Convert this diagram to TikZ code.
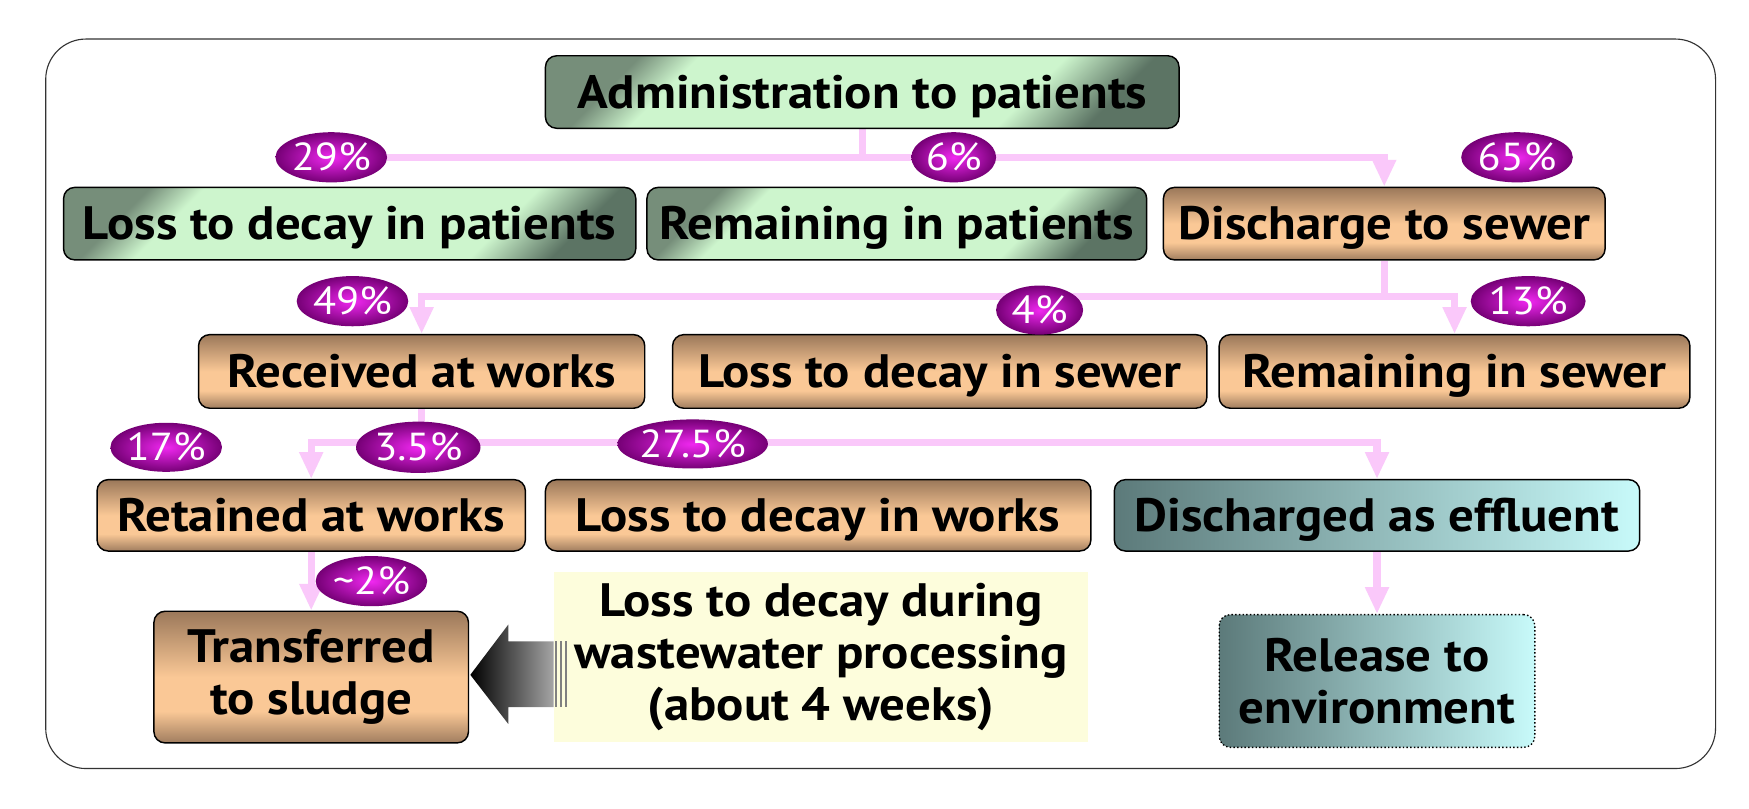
\documentclass[tikz,border=0pt]{standalone}
\usepackage{fontspec}
\setmainfont{PT Sans}[FakeStretch=1.085]
\usetikzlibrary{arrows.meta,shapes.geometric,calc}
\definecolor{pinkln}{RGB}{250,200,250}
\definecolor{gdk}{RGB}{118,142,122}
\definecolor{glt}{RGB}{205,245,205}
\definecolor{gdk2}{RGB}{92,116,100}
\definecolor{btop}{RGB}{155,120,90}
\definecolor{blt}{RGB}{250,200,150}
\definecolor{bbot}{RGB}{160,125,95}
\definecolor{tealdk}{RGB}{92,122,122}
\definecolor{tealmid}{RGB}{170,222,222}
\definecolor{teallt}{RGB}{200,250,250}
\definecolor{pctin}{RGB}{240,40,240}
\definecolor{pctout}{RGB}{118,0,118}
\definecolor{ylw}{RGB}{253,253,220}
\definecolor{arrowlt}{RGB}{165,165,165}
\pgfdeclarehorizontalshading{greenshade}{100bp}{color(0bp)=(gdk); color(24bp)=(gdk); color(30bp)=(glt); color(67bp)=(glt); color(76bp)=(gdk2); color(100bp)=(gdk2)}
\pgfdeclareverticalshading{brownshade}{100bp}{color(0bp)=(bbot); color(25bp)=(bbot); color(37bp)=(blt); color(50bp)=(blt); color(75bp)=(btop); color(100bp)=(btop)}
\pgfdeclarelayer{back}
\pgfdeclarelayer{bg}
\pgfsetlayers{back,bg,main}
\begin{document}
\begin{tikzpicture}[x=1pt,y=-1pt,
  box/.style={draw=black, line width=1.3pt, rounded corners=10pt, align=center,
    font=\fontsize{42}{47}\selectfont\bfseries, inner sep=0pt},
  onebox/.style={box, text height=29pt, text depth=0pt},
  greenbox/.style={onebox, shade, shading=greenshade, shading angle=-45},
  brownbox/.style={onebox, shade, shading=brownshade},
  tealbox/.style={onebox, left color=tealdk, middle color=tealmid, right color=teallt},
  pct/.style={ellipse, shade, inner color=pctin, outer color=pctout, text=white,
    font=\fontsize{35}{35}\selectfont, inner sep=0pt, text height=24pt, text depth=0pt},
  pinkline/.style={draw=pinkln, line width=6.5pt},
  pinkarrow/.style={pinkline, -{Triangle[width=20pt,length=24pt]}}]
\useasboundingbox (0,0) rectangle (1568,725);
\begin{pgfonlayer}{back}
  \fill[white] (0,0) rectangle (1568,725);
  \draw[draw=black!80, line width=1pt, rounded corners=36pt] (41,35) rectangle (1538,689);
\end{pgfonlayer}

% boxes
\node[greenbox, minimum width=568pt, minimum height=65pt] (admin) at (773,82.5) {Administration to patients};
\node[greenbox, minimum width=513pt, minimum height=65pt] (lossp) at (313.5,200.5) {Loss to decay in patients};
\node[greenbox, minimum width=448pt, minimum height=65pt] (remp) at (804,200.5) {Remaining in patients};
\node[brownbox, minimum width=396pt, minimum height=65pt] (sewer) at (1241,200.5) {Discharge to sewer};
\node[brownbox, minimum width=400pt, minimum height=66pt] (recv) at (378,333) {Received at works};
\node[brownbox, minimum width=479pt, minimum height=66pt] (losss) at (842.5,333) {Loss to decay in sewer};
\node[brownbox, minimum width=422pt, minimum height=66pt] (remsew) at (1304,333) {Remaining in sewer};
\node[brownbox, minimum width=384pt, minimum height=64pt] (ret) at (279,462) {Retained at works};
\node[brownbox, minimum width=489pt, minimum height=64pt] (lossw) at (733.5,462) {Loss to decay in works};
\node[tealbox, minimum width=471pt, minimum height=64pt] (eff) at (1234.5,462) {Discharged as effluent};
\node[box, shade, shading=brownshade, minimum width=282pt, minimum height=118pt] (sludge) at (279,607) {Transferred\\to sludge};
\node[box, draw=none, rounded corners=0pt, fill=ylw, minimum width=478pt, minimum height=152pt] (yellow) at (736,589) {Loss to decay during\\wastewater processing\\(about 4 weeks)};
\node[box, dotted, line width=1.2pt, left color=tealdk, middle color=tealmid, right color=teallt, minimum width=283pt, minimum height=119pt] (release) at (1234.5,610.5) {Release to\\environment};

% percentages
\node[pct, minimum width=100pt, minimum height=45pt] (p29) at (297,141) {29\%};
\node[pct, minimum width=76pt, minimum height=45pt] (p6) at (855,141) {6\%};
\node[pct, minimum width=96pt, minimum height=45pt] (p65) at (1360,141) {65\%};
\node[pct, minimum width=95pt, minimum height=45pt] (p49) at (316,270) {49\%};
\node[pct, minimum width=78pt, minimum height=44pt] (p4) at (932,278) {4\%};
\node[pct, minimum width=103pt, minimum height=45pt] (p13) at (1370,270) {13\%};
\node[pct, minimum width=93pt, minimum height=44pt] (p17) at (149,401) {17\%};
\node[pct, minimum width=104pt, minimum height=46pt] (p35) at (375,401) {3.5\%};
\node[pct, minimum width=126pt, minimum height=44pt] (p275) at (621,398) {27.5\%};
\node[pct, minimum width=100pt, minimum height=45pt] (p2) at (333,521) {\textasciitilde2\%};

% connectors
\coordinate (j2) at (1241,266);
\coordinate (j3) at (378,397);
\begin{pgfonlayer}{bg}
  \draw[pinkline] (admin.south) -- (admin.south |- p29.center);
  \draw[pinkarrow] (p29.center) -| (sewer.north);
  \draw[pinkarrow] (sewer.south) -- (j2) -| (recv.north);
  \draw[pinkarrow] (j2) -| (remsew.north);
  \draw[pinkarrow] (recv.south) -- (j3) -| (ret.north);
  \draw[pinkarrow] (j3) -| (eff.north);
  \draw[pinkarrow] (ret.south) -- (sludge.north);
  \draw[pinkarrow] (eff.south) -- (release.north);
\end{pgfonlayer}

% big arrow from the yellow box to the sludge box
\coordinate (tip) at ($(sludge.east)+(1,-2)$);
\coordinate (tail) at (yellow.west |- tip);
\path[left color=black, right color=arrowlt]
  (tip) -- ($(tip)+(34,-45)$) -- ($(tip)+(34,-30)$) -- ($(tail)+(0,-30)$)
  -- ($(tail)+(0,29)$) -- ($(tip)+(34,29)$) -- ($(tip)+(34,44)$) -- cycle;
\foreach \dx in {2,6.5,11}
  \draw[draw=black!50, line width=2pt] ($(tail)+(\dx,-30)$) -- ($(tail)+(\dx,29)$);
\end{tikzpicture}
\end{document}
